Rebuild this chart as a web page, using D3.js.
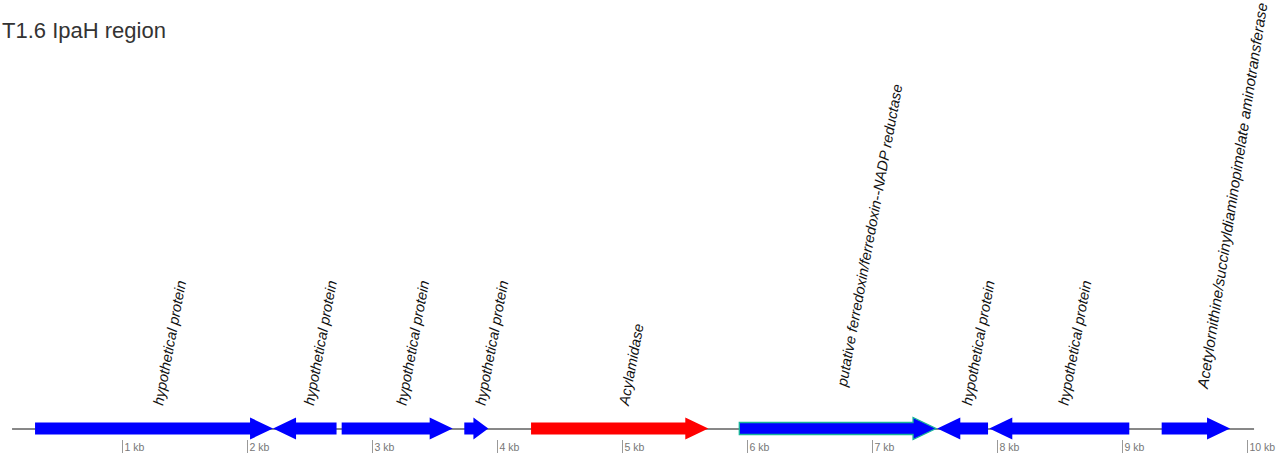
<!DOCTYPE html>
<html>
<head>
<meta charset="utf-8">
<script src="https://cdn.jsdelivr.net/npm/d3@7"></script>
<style>
  html, body { margin: 0; padding: 0; background: #fff; }
  svg { display: block; font-family: "Liberation Sans", Arial, sans-serif; }
</style>
</head>
<body>
<svg id="chart" width="1277" height="454"></svg>
<script>
// ---- data ----
const title = "T1.6 IpaH region";
const regionStart = 118;   // bp
const regionEnd = 10054;   // bp
const geneNames = [
  "hypothetical protein",
  "hypothetical protein",
  "hypothetical protein",
  "hypothetical protein",
  "Acylamidase",
  "putative ferredoxin/ferredoxin--NADP reductase",
  "hypothetical protein",
  "hypothetical protein",
  "Acetylornithine/succinyldiaminopimelate aminotransferase"
];
const geneStarts = [302, 2206, 2755, 3736, 4270, 5936, 7520, 7936, 9315];
const geneEnds   = [2206, 2714, 3643, 3928, 5688, 7510, 7926, 9056, 9862];
const geneStrands = [1, -1, 1, 1, 1, 1, -1, -1, 1];
const geneKinds = ["hyp", "hyp", "hyp", "hyp", "acyl", "fdx", "hyp", "hyp", "aat"];
const tickValues = [1000, 2000, 3000, 4000, 5000, 6000, 7000, 8000, 9000, 10000];
const tickLabels = ["1 kb", "2 kb", "3 kb", "4 kb", "5 kb", "6 kb", "7 kb", "8 kb", "9 kb", "10 kb"];

// ---- styles ----
const fillByKind = { hyp: "#0000ff", acyl: "#ff0000", fdx: "#0000ff", aat: "#0000ff" };
const strokeByKind = { hyp: "none", acyl: "none", fdx: "#19b59a", aat: "none" };
const labelLiftByKind = { hyp: 0, acyl: 0, fdx: 19, aat: 17 };
const labelShiftByKind = { hyp: 9, acyl: 9, fdx: 9, aat: 12 };
const labelFontByKind = { hyp: 14.6, acyl: 14.6, fdx: 14.6, aat: 15.2 };
const labelAngleByKind = { hyp: -79.5, acyl: -79.5, fdx: -79.5, aat: -81.2 };

const genes = geneNames.map((n, i) => ({
  name: n, start: geneStarts[i], end: geneEnds[i], strand: geneStrands[i], kind: geneKinds[i]
}));

const svg = d3.select("#chart");
const x = d3.scaleLinear().domain([0, 10000]).range([-2.7, 1247.3]);
const cy = 428.5;
const bodyH = 6, headH = 11, headLen = 23;

svg.append("text")
  .attr("x", 2).attr("y", 38)
  .attr("font-size", 22).attr("fill", "#333")
  .text(title);

// baseline
svg.append("line")
  .attr("x1", x(regionStart)).attr("x2", x(regionEnd))
  .attr("y1", cy + 0.5).attr("y2", cy + 0.5)
  .attr("stroke", "#111").attr("stroke-width", 1);

// axis ticks
const axis = d3.axisBottom(x).tickValues(tickValues).tickSize(0).tickFormat("");
const ag = svg.append("g").attr("transform", `translate(0,${cy})`).call(axis);
ag.select(".domain").remove();
const tk = svg.append("g").selectAll("g").data(tickValues).join("g")
  .attr("transform", d => `translate(${Math.round(x(d)) + 0.5},0)`);
tk.append("line").attr("y1", 440).attr("y2", 453).attr("stroke", "#999").attr("stroke-width", 1);
tk.append("text").attr("x", 2).attr("y", 451).attr("font-size", 10.5).attr("fill", "#777")
  .text((d, i) => tickLabels[i]);

// genes
function genePath(g) {
  const x0 = x(g.start), x1 = x(g.end);
  const len = x1 - x0;
  const hl = Math.min(headLen, len * 0.62);
  if (g.strand > 0) {
    const hb = x1 - hl;
    return `M${x0},${cy - bodyH}L${hb},${cy - bodyH}L${hb},${cy - headH}L${x1},${cy}L${hb},${cy + headH}L${hb},${cy + bodyH}L${x0},${cy + bodyH}Z`;
  } else {
    const hb = x0 + hl;
    return `M${x1},${cy - bodyH}L${hb},${cy - bodyH}L${hb},${cy - headH}L${x0},${cy}L${hb},${cy + headH}L${hb},${cy + bodyH}L${x1},${cy + bodyH}Z`;
  }
}
svg.append("g").selectAll("path").data(genes).join("path")
  .attr("d", genePath)
  .attr("fill", d => fillByKind[d.kind])
  .attr("stroke", d => strokeByKind[d.kind])
  .attr("stroke-width", 1.3);

// labels
svg.append("g").selectAll("text").data(genes).join("text")
  .attr("transform", d => `translate(${x((d.start + d.end) / 2) + labelShiftByKind[d.kind]},${406 - labelLiftByKind[d.kind]}) rotate(${labelAngleByKind[d.kind]})`)
  .attr("font-size", d => labelFontByKind[d.kind]).attr("font-style", "italic").attr("fill", "#111")
  .text(d => d.name);
</script>
</body>
</html>
